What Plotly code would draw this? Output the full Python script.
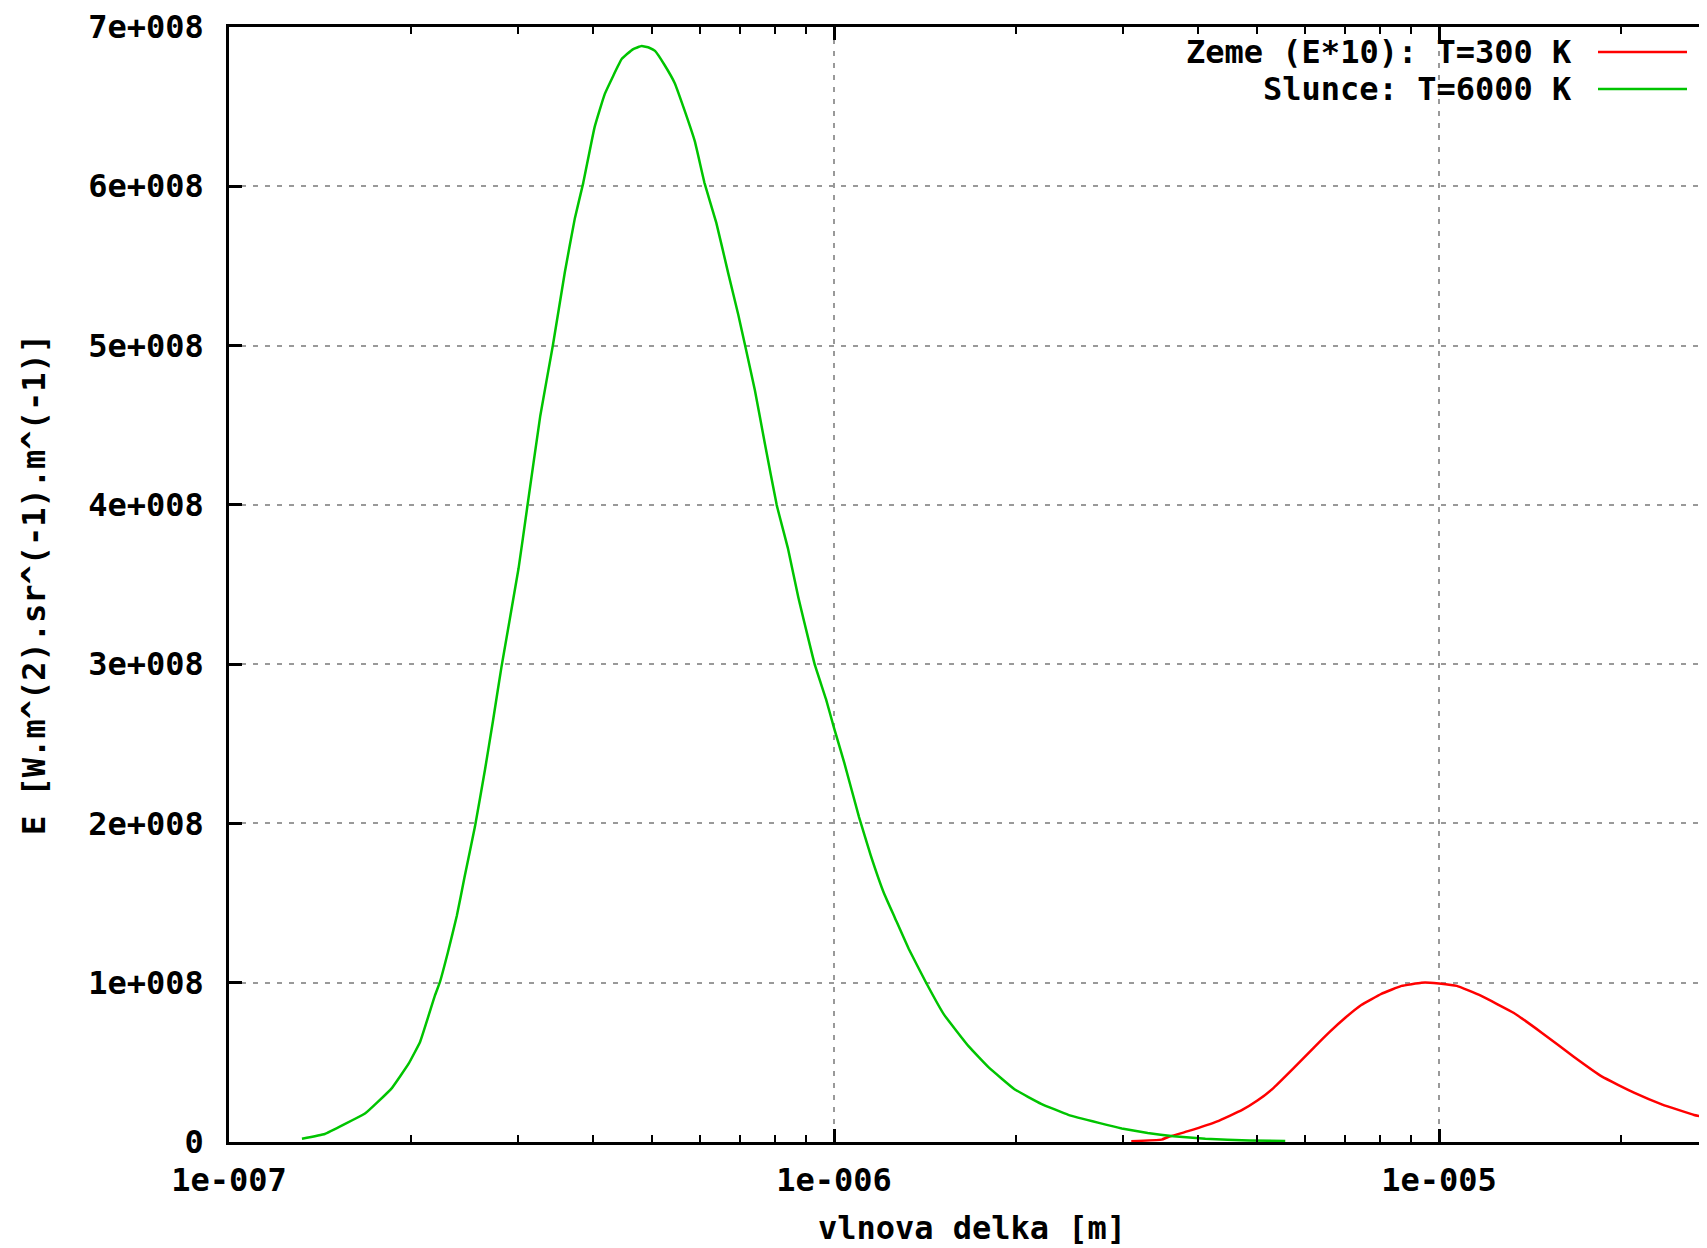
import plotly.graph_objects as go

# ---- data ----
sun_wavelength_m = [1.32e-7, 1.44e-7, 1.55e-7, 1.68e-7, 1.76e-7, 1.86e-7, 1.98e-7, 2.07e-7,
                    2.19e-7, 2.23e-7, 2.30e-7, 2.38e-7, 2.45e-7, 2.55e-7, 2.65e-7, 2.73e-7,
                    2.82e-7, 3.01e-7, 3.11e-7, 3.27e-7, 3.43e-7, 3.59e-7, 3.73e-7, 3.85e-7,
                    4.02e-7, 4.18e-7, 4.46e-7, 4.65e-7, 4.81e-7, 4.95e-7, 5.06e-7, 5.25e-7,
                    5.45e-7, 5.67e-7, 5.89e-7, 6.11e-7, 6.39e-7, 6.69e-7, 6.95e-7, 7.13e-7,
                    7.40e-7, 7.69e-7, 8.04e-7, 8.40e-7, 8.73e-7, 9.29e-7, 9.70e-7, 1.00e-6,
                    1.04e-6, 1.10e-6, 1.15e-6, 1.21e-6, 1.26e-6, 1.33e-6, 1.42e-6, 1.52e-6,
                    1.67e-6, 1.80e-6, 1.99e-6, 2.20e-6, 2.44e-6, 2.74e-6, 2.99e-6, 3.30e-6,
                    3.64e-6, 4.11e-6, 4.86e-6, 5.57e-6]
sun_E_1e8 = [0.02, 0.05, 0.11, 0.18, 0.25, 0.34, 0.49, 0.63,
             0.92, 1.00, 1.19, 1.42, 1.66, 1.98, 2.34, 2.64,
             2.98, 3.60, 3.98, 4.56, 5.00, 5.46, 5.80, 6.02,
             6.37, 6.58, 6.80, 6.86, 6.88, 6.87, 6.85, 6.76,
             6.65, 6.47, 6.28, 6.02, 5.77, 5.45, 5.19, 5.00,
             4.72, 4.38, 4.00, 3.72, 3.42, 3.00, 2.78, 2.60,
             2.38, 2.04, 1.80, 1.56, 1.41, 1.21, 1.00, 0.80,
             0.60, 0.47, 0.33, 0.24, 0.17, 0.12, 0.085, 0.056,
             0.036, 0.02, 0.01, 0.006]

earth_wavelength_m = [3.10e-6, 3.48e-6, 3.56e-6, 3.86e-6, 4.30e-6, 4.72e-6, 5.01e-6, 5.33e-6,
                      5.74e-6, 6.20e-6, 6.59e-6, 7.00e-6, 7.44e-6, 8.03e-6, 8.67e-6, 9.35e-6,
                      9.66e-6, 1.00e-5, 1.07e-5, 1.17e-5, 1.33e-5, 1.48e-5, 1.67e-5, 1.86e-5,
                      2.10e-5, 2.34e-5, 2.64e-5, 2.82e-5]
earth_E10_1e8 = [0.005, 0.015, 0.03, 0.07, 0.13, 0.20, 0.26, 0.34,
                 0.46, 0.59, 0.69, 0.78, 0.86, 0.93, 0.98, 1.00,
                 1.00, 0.995, 0.98, 0.92, 0.81, 0.685, 0.535, 0.41,
                 0.31, 0.235, 0.17, 0.15]

y_tick_values = [0, 1e8, 2e8, 3e8, 4e8, 5e8, 6e8, 7e8]
y_tick_labels = ["0", "1e+008", "2e+008", "3e+008", "4e+008", "5e+008", "6e+008", "7e+008"]
x_tick_values = [1e-7, 1e-6, 1e-5]
x_tick_labels = ["1e-007", "1e-006", "1e-005"]
x_minor_values = [m * d for d in (1e-7, 1e-6, 1e-5) for m in range(2, 10)]

legend_labels = ["Zeme (E*10): T=300 K", "Slunce: T=6000 K"]
RED = "#ff0000"
GREEN = "#00c400"

FONT = dict(family="DejaVu Sans Mono", size=32, color="black", weight=700)

sun_E = [v * 1e8 for v in sun_E_1e8]
earth_E = [v * 1e8 for v in earth_E10_1e8]

fig = go.Figure()
fig.add_trace(go.Scatter(x=earth_wavelength_m, y=earth_E, mode="lines",
                         line=dict(color=RED, width=2.5, shape="spline", smoothing=0.3),
                         name=legend_labels[0], showlegend=False))
fig.add_trace(go.Scatter(x=sun_wavelength_m, y=sun_E, mode="lines",
                         line=dict(color=GREEN, width=2.5, shape="spline", smoothing=0.3),
                         name=legend_labels[1], showlegend=False))

# small page offset compensation so the plot lands where the reference has it
OFF = 6
W, H = 1707, 1248
L, R, T = 227 - OFF, 0, 23 - OFF
B = H - (1140 - OFF)
pw, ph = W - L - R, H - T - B
DECADE = 605.0
x_range = [-7, -7 + pw / DECADE]

def px(x):
    return (x - OFF - L) / pw

def py(y):
    return 1 - (y - OFF - T) / ph

# legend drawn gnuplot-style (text right-aligned, sample line on the right)
legend_rows_y = [48, 85]
legend_colors = [RED, GREEN]
for lbl, yy, col in zip(legend_labels, legend_rows_y, legend_colors):
    fig.add_annotation(x=px(1572), y=py(yy), xref="paper", yref="paper", text=lbl,
                       showarrow=False, xanchor="right", yanchor="middle", font=FONT)
    fig.add_shape(type="line", xref="paper", yref="paper", x0=px(1596), x1=px(1685),
                  y0=py(yy), y1=py(yy), line=dict(color=col, width=2.5))

fig.update_layout(
    width=W, height=H,
    margin=dict(l=L, r=R, t=T, b=B, pad=0),
    paper_bgcolor="white", plot_bgcolor="white",
    font=FONT,
    showlegend=False,
)

fig.update_xaxes(
    type="log", range=x_range,
    tickmode="array", tickvals=x_tick_values, ticktext=x_tick_labels,
    ticks="inside", ticklen=13, tickwidth=2.5, tickcolor="black",
    minor=dict(tickvals=x_minor_values, ticks="inside", ticklen=7, tickwidth=2,
               tickcolor="black", showgrid=False),
    showline=True, linecolor="black", linewidth=2.5, mirror="ticks",
    showgrid=True, gridcolor="#999999", gridwidth=2, griddash="5px,7px",
    zeroline=False, ticklabelstandoff=8, ticklabeloverflow="allow",
    tickfont=FONT,
    title=dict(text="vlnova delka [m]", font=FONT, standoff=19),
)
fig.update_yaxes(
    range=[0, 7e8],
    tickmode="array", tickvals=y_tick_values, ticktext=y_tick_labels,
    ticks="inside", ticklen=13, tickwidth=2.5, tickcolor="black",
    showline=True, linecolor="black", linewidth=2.5, mirror=False,
    showgrid=True, gridcolor="#999999", gridwidth=2, griddash="5px,7px",
    zeroline=False, ticklabelstandoff=16, ticklabeloverflow="allow",
    tickfont=FONT,
    title=dict(text="E [W.m^(2).sr^(-1).m^(-1)]", font=FONT, standoff=34),
)

fig.write_html("out.html")
